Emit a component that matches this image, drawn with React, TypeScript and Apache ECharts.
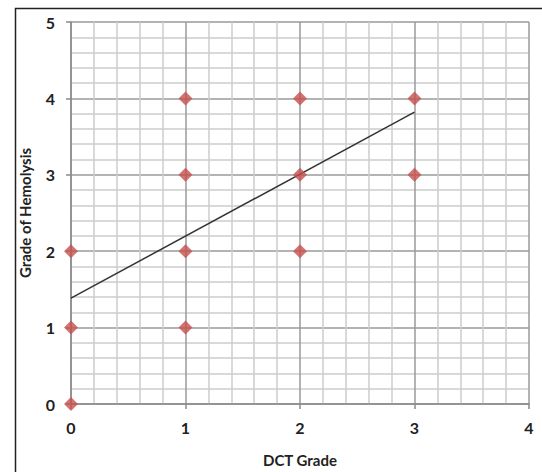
import React, { useEffect, useRef } from "react";
import * as echarts from "echarts";

const dctGrade = [0, 0, 0, 1, 1, 1, 1, 2, 2, 2, 3, 3];
const hemolysisGrade = [0, 1, 2, 1, 2, 3, 4, 2, 3, 4, 3, 4];
const trendX = [0, 3];
const trendY = [1.386, 3.82];
const xTicks = [0, 1, 2, 3, 4];
const yTicks = [0, 1, 2, 3, 4, 5];

export default function App() {
  const ref = useRef<HTMLDivElement>(null);
  useEffect(() => {
    if (!ref.current) return;
    const chart = echarts.init(ref.current, null, { renderer: "svg" });
    const font = "Lato, 'Open Sans', 'DejaVu Sans', sans-serif";
    chart.setOption({
      animation: false,
      backgroundColor: "#ffffff",
      graphic: [
        {
          type: "rect",
          left: 13,
          top: 6,
          shape: { width: 700, height: 700 },
          style: { fill: "none", stroke: "#222", lineWidth: 1.5 },
          silent: true,
          z: -10,
        },
      ],
      grid: { left: 71, top: 22, right: 13, bottom: 63, containLabel: false },
      xAxis: {
        type: "value",
        min: xTicks[0],
        max: xTicks[xTicks.length - 1],
        interval: 1,
        name: "DCT Grade",
        nameLocation: "middle",
        nameGap: 48,
        nameTextStyle: { fontFamily: font, fontWeight: "bold", fontSize: 15, color: "#222" },
        axisLine: { show: true, lineStyle: { color: "#8a8a8a", width: 1.5 } },
        axisTick: { show: true, length: 5, lineStyle: { color: "#8a8a8a", width: 1.5 } },
        axisLabel: { fontFamily: font, fontWeight: "bold", fontSize: 16, color: "#222", margin: 15 },
        splitLine: { show: true, lineStyle: { color: "#9a9a9a", width: 1.5 } },
        minorTick: { show: false, splitNumber: 5 },
        minorSplitLine: { show: true, lineStyle: { color: "#cdcdcd", width: 1.5 } },
      },
      yAxis: {
        type: "value",
        min: yTicks[0],
        max: yTicks[yTicks.length - 1],
        interval: 1,
        name: "Grade of Hemolysis",
        nameLocation: "middle",
        nameGap: 39,
        nameTextStyle: { fontFamily: font, fontWeight: "bold", fontSize: 15, color: "#222" },
        axisLine: { show: true, lineStyle: { color: "#8a8a8a", width: 1.5 } },
        axisTick: { show: true, length: 5, lineStyle: { color: "#8a8a8a", width: 1.5 } },
        axisLabel: { fontFamily: font, fontWeight: "bold", fontSize: 16, color: "#222", margin: 16 },
        splitLine: { show: true, lineStyle: { color: "#9a9a9a", width: 1.5 } },
        minorTick: { show: false, splitNumber: 5 },
        minorSplitLine: { show: true, lineStyle: { color: "#cdcdcd", width: 1.5 } },
      },
      series: [
        {
          type: "line",
          data: trendX.map((x, i) => [x, trendY[i]]),
          showSymbol: false,
          symbol: "none",
          lineStyle: { color: "#333", width: 1.5 },
          z: 3,
        },
        {
          type: "scatter",
          data: dctGrade.map((x, i) => [x, hemolysisGrade[i]]),
          symbol: "diamond",
          symbolSize: 14,
          itemStyle: { color: "#C4504D" },
          z: 4,
        },
      ],
    });
    return () => chart.dispose();
  }, []);
  return <div ref={ref} style={{ width: 542, height: 472, position: "absolute", left: 0, top: 0 }} />;
}
